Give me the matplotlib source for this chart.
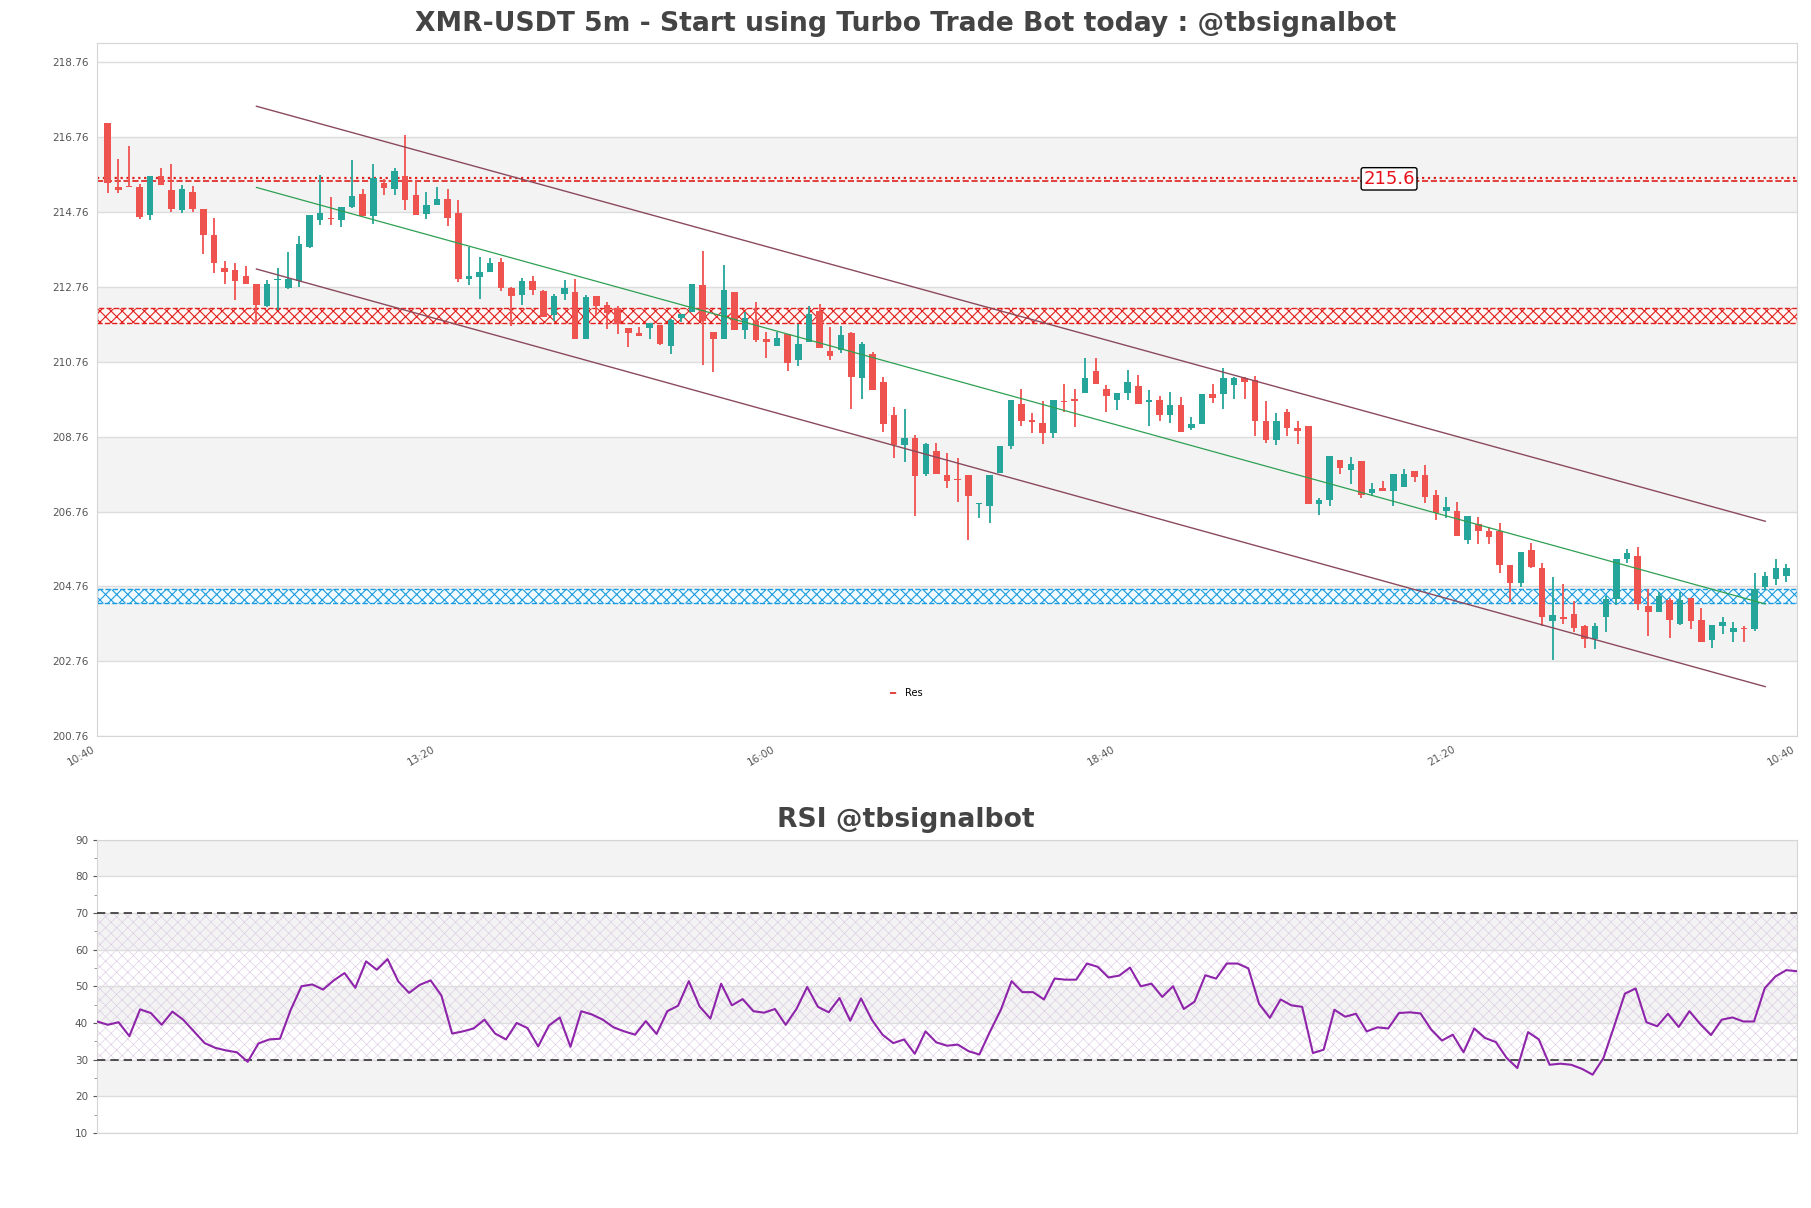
import matplotlib
matplotlib.use("Agg")
import matplotlib.pyplot as plt
import numpy as np

# ############################# data ##########################
opens = [217.14, 215.42, 215.45, 215.42, 214.68, 215.73, 215.34, 214.82, 215.31, 214.84,
         214.14, 213.27, 213.21, 213.05, 212.84, 212.26, 212.96, 212.73, 212.93, 213.84,
         214.56, 214.60, 214.56, 214.89, 215.24, 214.66, 215.55, 215.39, 215.73, 215.21,
         214.72, 214.95, 215.10, 214.73, 212.98, 213.02, 213.17, 213.42, 212.74, 212.55,
         212.91, 212.65, 212.00, 212.58, 212.63, 211.36, 212.52, 212.29, 212.20, 211.67,
         211.53, 211.67, 211.75, 211.19, 211.94, 212.10, 212.81, 211.56, 211.38, 212.63,
         211.62, 211.84, 211.38, 211.18, 211.51, 210.80, 211.28, 212.11, 211.05, 211.07,
         211.53, 210.34, 210.97, 210.22, 209.34, 208.54, 208.73, 207.75, 208.38, 207.73,
         207.62, 207.73, 206.95, 206.90, 207.78, 208.52, 209.63, 209.20, 209.12, 208.87,
         209.72, 209.77, 209.92, 210.52, 210.04, 209.75, 209.92, 210.12, 209.69, 209.74,
         209.33, 209.61, 208.98, 209.09, 209.89, 209.91, 210.15, 210.33, 210.28, 209.18,
         208.68, 209.42, 208.99, 209.05, 206.97, 207.07, 208.14, 207.88, 208.10, 207.25,
         207.39, 207.30, 207.41, 207.85, 207.74, 207.20, 206.78, 206.78, 206.01, 206.42,
         206.24, 206.23, 205.33, 204.84, 205.73, 205.24, 203.83, 203.95, 204.03, 203.69,
         203.35, 203.93, 204.41, 205.48, 205.58, 204.24, 204.07, 204.39, 203.75, 204.45,
         203.85, 203.33, 203.71, 203.54, 203.64, 203.61, 204.75, 204.95, 205.04]
highs = [217.14, 216.17, 216.54, 215.50, 215.72, 215.94, 216.05, 215.49, 215.45, 214.84,
         214.60, 213.45, 213.41, 213.32, 212.84, 212.95, 213.27, 213.70, 214.11, 214.69,
         215.76, 215.16, 214.91, 216.15, 215.39, 216.05, 215.64, 215.94, 216.81, 215.62,
         215.31, 215.43, 215.39, 215.08, 213.84, 213.55, 213.53, 213.53, 212.77, 212.99,
         213.06, 212.68, 212.56, 212.95, 212.97, 212.54, 212.52, 212.35, 212.24, 211.67,
         211.69, 211.79, 211.75, 211.90, 212.03, 212.84, 213.72, 211.56, 213.36, 212.63,
         212.08, 212.37, 211.57, 211.57, 211.51, 211.76, 212.24, 212.30, 211.69, 211.72,
         211.57, 211.30, 211.01, 210.35, 209.55, 209.50, 208.80, 208.60, 208.60, 208.33,
         208.18, 207.73, 206.98, 207.74, 208.51, 209.74, 210.04, 209.40, 209.72, 209.74,
         210.16, 210.04, 210.86, 210.86, 210.14, 209.93, 210.54, 210.40, 210.01, 209.84,
         209.96, 209.82, 209.28, 209.89, 210.18, 210.60, 210.35, 210.35, 210.38, 209.70,
         209.38, 209.50, 209.17, 209.05, 207.13, 208.24, 208.14, 208.22, 208.10, 207.53,
         207.58, 207.75, 207.90, 207.85, 208.00, 207.34, 207.16, 207.01, 206.64, 206.61,
         206.35, 206.45, 205.33, 205.67, 205.92, 205.38, 205.00, 204.82, 204.36, 203.74,
         203.78, 204.51, 205.50, 205.75, 205.82, 204.68, 204.61, 204.46, 204.61, 204.45,
         204.17, 203.73, 203.93, 203.80, 203.69, 205.11, 205.14, 205.50, 205.35]
lows = [215.26, 215.28, 215.42, 214.58, 214.56, 215.49, 214.77, 214.74, 214.77, 213.63,
        213.14, 212.85, 212.40, 212.85, 211.76, 212.22, 212.14, 212.71, 212.75, 213.80,
        214.42, 214.42, 214.35, 214.87, 214.67, 214.45, 215.22, 215.22, 214.82, 214.68,
        214.58, 214.95, 214.39, 212.90, 212.82, 212.43, 213.17, 212.66, 211.71, 212.27,
        212.55, 211.96, 211.85, 212.42, 211.38, 211.36, 212.01, 211.65, 211.51, 211.15,
        211.44, 211.38, 211.22, 210.98, 211.83, 212.10, 210.67, 210.48, 211.38, 211.62,
        211.36, 211.30, 210.86, 211.18, 210.52, 210.64, 211.28, 211.14, 210.80, 210.99,
        209.49, 209.77, 210.02, 208.89, 208.18, 208.08, 206.64, 207.71, 207.75, 207.40,
        207.01, 206.01, 206.58, 206.45, 207.78, 208.44, 209.05, 208.85, 208.56, 208.72,
        209.43, 209.01, 209.92, 210.18, 209.41, 209.46, 209.75, 209.64, 209.05, 209.18,
        209.12, 208.89, 208.95, 209.09, 209.65, 209.49, 209.78, 209.78, 208.78, 208.60,
        208.53, 208.78, 208.57, 206.97, 206.68, 206.90, 207.76, 207.50, 207.11, 207.17,
        207.30, 206.90, 207.41, 207.56, 206.98, 206.52, 206.59, 206.10, 205.90, 205.90,
        205.90, 205.11, 204.34, 204.75, 205.24, 203.69, 202.79, 203.75, 203.54, 203.12,
        203.08, 203.54, 204.25, 205.38, 204.14, 203.44, 204.07, 203.39, 203.74, 203.62,
        203.27, 203.12, 203.49, 203.28, 203.28, 203.56, 204.66, 204.80, 204.87]
closes = [215.54, 215.36, 215.43, 214.63, 215.72, 215.49, 214.85, 215.39, 214.85, 214.15,
          213.40, 213.17, 212.93, 212.85, 212.29, 212.84, 212.98, 212.98, 213.92, 214.69,
          214.75, 214.57, 214.91, 215.18, 214.67, 215.66, 215.41, 215.85, 215.09, 214.68,
          214.95, 215.10, 214.61, 212.97, 213.06, 213.16, 213.39, 212.72, 212.51, 212.92,
          212.69, 211.96, 212.52, 212.73, 211.38, 212.49, 212.26, 212.07, 211.76, 211.54,
          211.44, 211.79, 211.24, 211.88, 212.03, 212.84, 211.84, 211.36, 212.69, 211.62,
          211.92, 211.33, 211.28, 211.40, 210.72, 211.24, 212.05, 211.14, 210.91, 211.47,
          210.35, 211.24, 210.02, 209.11, 208.54, 208.73, 207.71, 208.56, 207.75, 207.57,
          207.59, 207.17, 206.97, 207.74, 208.51, 209.74, 209.17, 209.15, 208.86, 209.74,
          209.69, 209.72, 210.33, 210.18, 209.86, 209.93, 210.23, 209.64, 209.75, 209.33,
          209.61, 208.89, 209.09, 209.89, 209.80, 210.33, 210.33, 210.21, 209.17, 208.66,
          209.18, 208.99, 208.92, 206.97, 207.07, 208.24, 207.92, 208.03, 207.21, 207.35,
          207.30, 207.75, 207.77, 207.68, 207.15, 206.73, 206.87, 206.10, 206.64, 206.23,
          206.08, 205.33, 204.84, 205.67, 205.29, 203.95, 204.00, 203.88, 203.66, 203.35,
          203.71, 204.43, 205.50, 205.65, 204.29, 204.07, 204.51, 203.86, 204.39, 203.83,
          203.27, 203.73, 203.81, 203.64, 203.62, 204.68, 205.04, 205.26, 205.24]

rsi = [40.4, 39.5, 40.2, 36.4, 43.7, 42.7, 39.5, 43.1, 40.9, 37.7,
       34.5, 33.2, 32.5, 32.0, 29.4, 34.4, 35.5, 35.7, 43.6, 50.0,
       50.5, 49.1, 51.6, 53.6, 49.6, 56.8, 54.5, 57.4, 51.3, 48.2,
       50.4, 51.6, 47.5, 37.1, 37.7, 38.5, 40.9, 37.1, 35.5, 40.0,
       38.6, 33.6, 39.3, 41.5, 33.5, 43.2, 42.3, 40.9, 38.8, 37.7,
       36.8, 40.5, 37.0, 43.2, 44.7, 51.4, 44.5, 41.2, 50.7, 44.8,
       46.5, 43.2, 42.8, 43.8, 39.5, 43.8, 49.8, 44.4, 42.9, 46.8,
       40.6, 46.7, 40.9, 36.8, 34.5, 35.5, 31.6, 37.7, 34.7, 33.8,
       34.1, 32.3, 31.4, 37.7, 43.6, 51.4, 48.4, 48.4, 46.4, 52.1,
       51.8, 51.8, 56.2, 55.3, 52.4, 52.9, 55.1, 50.0, 50.7, 47.1,
       50.0, 43.8, 45.8, 53.0, 52.1, 56.2, 56.2, 54.9, 45.2, 41.4,
       46.4, 44.8, 44.4, 31.8, 32.7, 43.6, 41.7, 42.5, 37.7, 38.8,
       38.5, 42.7, 42.9, 42.6, 38.2, 35.2, 36.8, 32.0, 38.5, 35.9,
       34.8, 30.5, 27.7, 37.5, 35.5, 28.6, 28.9, 28.6, 27.5, 25.9,
       30.4, 39.1, 48.0, 49.4, 40.2, 39.1, 42.5, 38.9, 43.2, 39.7,
       36.7, 40.9, 41.5, 40.4, 40.4, 49.5, 52.7, 54.4, 54.1]

time_labels = ["10:40", "13:20", "16:00", "18:40", "21:20", "10:40"]
price_ticks = [200.76, 202.76, 204.76, 206.76, 208.76, 210.76, 212.76, 214.76, 216.76, 218.76]

# channel drawn by the bot (start/end candle index and prices)
channel_x = [14, 156]
channel_upper = [217.59, 206.50]
channel_mid = [215.42, 204.29]
channel_lower = [213.24, 202.08]

res_level = 215.6
res_zone = [211.80, 212.20]
sup_zone = [204.32, 204.70]

# ############################# figure ##########################################
UP = "#26a69a"
DOWN = "#ef5350"
BAND = "#f3f3f3"
GRID = "#dddddd"

fig = plt.figure(figsize=(18.11, 12.08), dpi=100)
ax = fig.add_axes([0.0536, 0.3907, 0.9387, 0.5737])
ax2 = fig.add_axes([0.0536, 0.0621, 0.9387, 0.2429])

n = len(opens)
x = np.arange(n)
o = np.array(opens)
c = np.array(closes)
colors = [UP if cc >= oo else DOWN for oo, cc in zip(o, c)]

# background bands
for lo in price_ticks[1:-1:2]:
    ax.axhspan(lo, lo + 2, color=BAND, zorder=0, lw=0)

ax.vlines(x, lows, highs, color=colors, lw=1.3, zorder=3)
body = np.maximum(np.abs(c - o), 0.025)
ax.bar(x, body, bottom=np.minimum(o, c), width=0.62, color=colors, zorder=4)

# zones
with plt.rc_context({"hatch.linewidth": 0.8}):
    ax.axhspan(res_zone[0], res_zone[1], facecolor="#fff6f6", edgecolor="#e0201c",
               hatch="xxx", ls="--", lw=1.0, zorder=2)
    ax.axhspan(sup_zone[0], sup_zone[1], facecolor="#f2fbff", edgecolor="#1a9be0",
               hatch="xxx", ls="--", lw=1.0, zorder=2)
ax.axhline(res_level + 0.08, color="#e0201c", ls=":", lw=1.6, zorder=2)
ax.axhline(res_level, color="#e0201c", ls="--", lw=1.2, zorder=2, label="Res")
ax.text(120.6, res_level + 0.05, "215.6", color="#e8101a", fontsize=13, ha="center",
        va="center", zorder=6,
        bbox=dict(boxstyle="round,pad=0.12", fc="white", ec="black", lw=1))

# channel
ax.plot(channel_x, channel_upper, color="#8b4a5c", lw=1.0, zorder=5)
ax.plot(channel_x, channel_lower, color="#8b4a5c", lw=1.0, zorder=5)
ax.plot(channel_x, channel_mid, color="#2ea052", lw=0.9, zorder=5)

ax.set_xlim(-1, n)
ax.set_ylim(200.76, 219.28)
ax.set_yticks(price_ticks)
ax.set_yticklabels(["%.2f" % p for p in price_ticks])
ax.set_xticks([-1 + 32 * i for i in range(6)])
ax.set_xticklabels(time_labels, rotation=30, ha="right")
ax.grid(axis="y", color=GRID, lw=1, zorder=1)
ax.set_axisbelow(True)
ax.tick_params(labelsize=7.5, colors="#555555", length=0, pad=6)
for s in ax.spines.values():
    s.set_color("#d5d5d5")
ax.legend(loc="center", bbox_to_anchor=(0.476, 0.062), frameon=False, fontsize=7,
          handlelength=0.8)

fig.text(0.5, 1 - 24 / 1208, "XMR-USDT 5m - Start using Turbo Trade Bot today : @tbsignalbot",
         ha="center", va="center", fontsize=19.2, fontweight="bold", color="#444444")

# ############################# RSI panel ########################################
for lo in [20, 40, 60, 80]:
    ax2.axhspan(lo, lo + 10, color=BAND, zorder=0, lw=0)
with plt.rc_context({"hatch.linewidth": 0.4}):
    ax2.axhspan(30, 70, facecolor="none", edgecolor="#d9c6e2", hatch="xxx", lw=0, zorder=1)
ax2.axhline(70, color="#333333", ls=(0, (5, 3)), lw=1.2, zorder=3)
ax2.axhline(30, color="#333333", ls=(0, (5, 3)), lw=1.2, zorder=3)
ax2.plot(np.arange(len(rsi)), rsi, color="#8e24aa", lw=1.5, zorder=4)

ax2.set_xlim(0, len(rsi) - 1)
ax2.set_ylim(10, 90)
ax2.set_yticks(range(10, 91, 10))
ax2.set_yticks(range(15, 90, 10), minor=True)
ax2.set_xticks([])
ax2.grid(axis="y", color=GRID, lw=1, zorder=1)
ax2.tick_params(labelsize=7.5, colors="#555555", length=3)
ax2.tick_params(which="minor", length=2, colors="#888888")
for s in ax2.spines.values():
    s.set_color("#d5d5d5")

fig.text(0.5, 1 - 820 / 1208, "RSI @tbsignalbot", ha="center", va="center",
         fontsize=19.2, fontweight="bold", color="#444444")

fig.savefig("out.png", dpi=100)
